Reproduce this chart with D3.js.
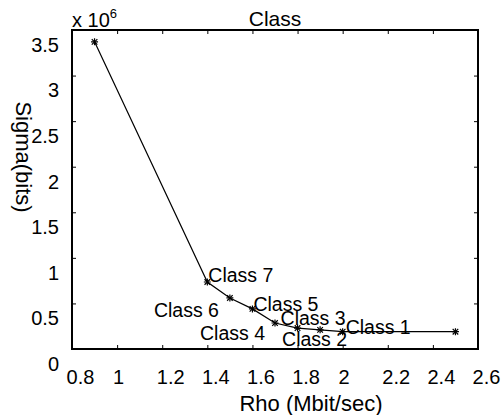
<!DOCTYPE html>
<html>
<head>
<meta charset="utf-8">
<script src="https://cdn.jsdelivr.net/npm/d3@7"></script>
<style>
  body { margin: 0; background: #fff; }
  svg { display: block; font-family: "Liberation Sans", Arial, sans-serif; }
</style>
</head>
<body>
<div id="chart"></div>
<script>
// Rho (Mbit/sec) vs Sigma (bits)
const rho = [0.9, 1.4, 1.5, 1.6, 1.7, 1.8, 1.9, 2.0, 2.5];
const sigma = [3370000, 735000, 560000, 440000, 285000, 230000, 210000, 190000, 190000];

// class label names, by point index
const classNames = [null, 'Class 7', 'Class 6', 'Class 5', 'Class 4', 'Class 3', 'Class 2', 'Class 1', null];
// label offsets in px from the point (left edge, vertical centre)
const labelOffsets = [null, [1, -7], [-76, 12], [1, -5], [-75, 10], [-17, -10], [-38, 9], [3, -5], null];

const xTicks = [0.8, 1, 1.2, 1.4, 1.6, 1.8, 2, 2.2, 2.4, 2.6];
const yTicks = [0, 0.5e6, 1e6, 1.5e6, 2e6, 2.5e6, 3e6, 3.5e6];

const width = 502;
const height = 415;
const margin = { top: 30, right: 24, bottom: 66, left: 72 };

const svg = d3.select('#chart')
  .append('svg')
  .attr('width', width)
  .attr('height', height);

const x = d3.scaleLinear()
  .domain([0.8, 2.6])
  .range([margin.left, width - margin.right]);

const y = d3.scaleLinear()
  .domain([0, 3.5e6])
  .range([height - margin.bottom, margin.top]);

const data = rho.map((r, i) => ({ rho: r, sigma: sigma[i], name: classNames[i], off: labelOffsets[i] }));

// axes, ticks pointing inward
const bottom = svg.append('g')
  .attr('transform', `translate(0,${y(0)})`)
  .call(d3.axisBottom(x).tickValues(xTicks).tickSizeInner(-4).tickSizeOuter(0).tickPadding(21)
    .tickFormat(d3.format('')));
bottom.selectAll('text')
  .attr('font-size', 20)
  .attr('fill', '#000')
  .attr('dx', d => String(d).length > 1 ? 8 : 1);

const left = svg.append('g')
  .attr('transform', `translate(${x(0.8)},0)`)
  .call(d3.axisLeft(y).tickValues(yTicks).tickSizeInner(-4).tickSizeOuter(0).tickPadding(13)
    .tickFormat(d => d / 1e6));
left.selectAll('text')
  .attr('font-size', 20)
  .attr('fill', '#000')
  .attr('y', 15);

svg.append('g')
  .attr('transform', `translate(0,${y(3.5e6)})`)
  .call(d3.axisTop(x).tickValues(xTicks).tickSizeInner(-4).tickSizeOuter(0).tickFormat(''));

svg.append('g')
  .attr('transform', `translate(${x(2.6)},0)`)
  .call(d3.axisRight(y).tickValues(yTicks).tickSizeInner(-4).tickSizeOuter(0).tickFormat(''));

svg.selectAll('.domain').remove();
svg.selectAll('.tick line').attr('stroke', '#000').attr('stroke-width', 1);

svg.append('rect')
  .attr('x', x(0.8))
  .attr('y', y(3.5e6))
  .attr('width', x(2.6) - x(0.8))
  .attr('height', y(0) - y(3.5e6))
  .attr('fill', 'none')
  .attr('stroke', '#000')
  .attr('stroke-width', 2);

// line
svg.append('path')
  .datum(data)
  .attr('fill', 'none')
  .attr('stroke', '#000')
  .attr('stroke-width', 1.2)
  .attr('d', d3.line().x(d => x(d.rho)).y(d => y(d.sigma)));

// asterisk markers (plus + times)
const markers = svg.append('g')
  .attr('fill', 'none')
  .attr('stroke', '#000')
  .attr('stroke-width', 1.2)
  .selectAll('g')
  .data(data)
  .join('g')
    .attr('transform', d => `translate(${x(d.rho)},${y(d.sigma)})`);
markers.append('path').attr('d', d3.symbol(d3.symbolPlus, 18));
markers.append('path').attr('d', d3.symbol(d3.symbolTimes, 22));

// class labels
svg.append('g')
  .attr('font-size', 19.5)
  .attr('fill', '#000')
  .selectAll('text')
  .data(data.filter(d => d.name))
  .join('text')
    .attr('x', d => x(d.rho) + d.off[0])
    .attr('y', d => y(d.sigma) + d.off[1])
    .attr('dy', '0.36em')
    .text(d => d.name);

// title
svg.append('text')
  .attr('x', (x(0.8) + x(2.6)) / 2)
  .attr('y', 26)
  .attr('text-anchor', 'middle')
  .attr('font-size', 21)
  .text('Class');

// exponent
const expo = svg.append('text')
  .attr('x', x(0.8))
  .attr('y', 27)
  .attr('font-size', 20);
expo.append('tspan').text('x 10');
expo.append('tspan').attr('font-size', 13).attr('dy', -9).text('6');

// axis labels
svg.append('text')
  .attr('x', 311)
  .attr('y', 411)
  .attr('text-anchor', 'middle')
  .attr('font-size', 22)
  .text('Rho (Mbit/sec)');

svg.append('text')
  .attr('text-anchor', 'middle')
  .attr('font-size', 22)
  .attr('transform', 'translate(16,157) rotate(90)')
  .text('Sigma(bits)');
</script>
</body>
</html>
